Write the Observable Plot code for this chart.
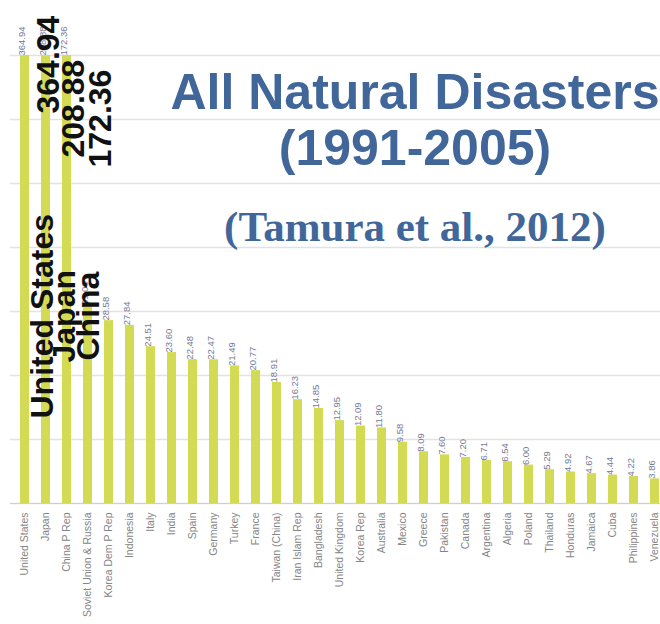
<!DOCTYPE html>
<html>
<head>
<meta charset="utf-8">
<script src="https://cdn.jsdelivr.net/npm/d3@7"></script>
<script src="https://cdn.jsdelivr.net/npm/@observablehq/plot@0.6"></script>
<style>
  html, body { margin: 0; padding: 0; background: #fff; overflow: hidden; }
  #wrap { position: relative; width: 660px; height: 624px; overflow: hidden; }
  #chart svg { overflow: hidden; }
  .ttl { position: absolute; color: #41679a; text-align: center; white-space: nowrap; }
  #t1 { left: 165px; width: 500px; top: 64px; font: bold 50px "Liberation Sans", Arial, sans-serif; line-height: 56px; }
  #t2 { left: 170px; width: 490px; top: 203px; font: bold 43px "Liberation Serif", "Times New Roman", serif; line-height: 48px; }
</style>
</head>
<body>
<div id="wrap">
  <div id="chart"></div>
  <div class="ttl" id="t1">All Natural Disasters<br>(1991-2005)</div>
  <div class="ttl" id="t2">(Tamura et al., 2012)</div>
</div>
<script>
const countries = [
  "United States", "Japan", "China P Rep", "Soviet Union & Russia", "Korea Dem P Rep",
  "Indonesia", "Italy", "India", "Spain", "Germany", "Turkey", "France",
  "Taiwan (China)", "Iran Islam Rep", "Bangladesh", "United Kingdom", "Korea Rep",
  "Australia", "Mexico", "Greece", "Pakistan", "Canada", "Argentina", "Algeria",
  "Poland", "Thailand", "Honduras", "Jamaica", "Cuba", "Philippines", "Venezuela"
];
const values = [
  364.94, 208.88, 172.36, 31.0, 28.58,
  27.84, 24.51, 23.60, 22.48, 22.47, 21.49, 20.77,
  18.91, 16.23, 14.85, 12.95, 12.09,
  11.80, 9.58, 8.09, 7.60, 7.20, 6.71, 6.54,
  6.00, 5.29, 4.92, 4.67, 4.44, 4.22, 3.86
];
const gridTicks = [0, 10, 20, 30, 40, 50, 60, 70];
const bigNames = ["United States", "Japan", "China"];

const data = countries.map((c, i) => ({country: c, value: values[i]}));
const top3 = data.slice(0, 3);

const font = '"Liberation Sans", Arial, sans-serif';
const bigStyle = {fontSize: 32, fontWeight: "bold", fill: "#111", fontFamily: font,
  rotate: -90, textAnchor: "start", lineAnchor: "middle", frameAnchor: "top"};

const chart = Plot.plot({
  width: 660,
  height: 624,
  marginTop: 55,
  marginBottom: 121,
  marginLeft: 10,
  marginRight: 0,
  style: {fontFamily: font, background: "#fff"},
  x: {domain: countries, range: [3.6, 676], padding: 0.55, label: null},
  y: {domain: [0, 70], clamp: true, axis: null},
  marks: [
    Plot.ruleY(gridTicks, {stroke: "#e2e2e2", strokeWidth: 1.5}),
    Plot.barY(data, {x: "country", y: "value", fill: "#d3db55"}),
    Plot.ruleY([0], {stroke: "#c9cfe0", strokeWidth: 1}),
    Plot.text(data, {x: "country", y: "value", text: d => d.value.toFixed(2),
      rotate: -90, textAnchor: "start", lineAnchor: "middle", dx: -3,
      fontSize: 9.5, fill: "#747a96", stroke: "#fff", strokeWidth: 0.5}),
    Plot.axisX({tickRotate: -90, tickSize: 0, tickPadding: 9, fontSize: 10.5,
      color: "#858585", label: null}),
    Plot.text([top3[0]], {...bigStyle, x: "country", text: d => d.value.toFixed(2), dx: 24, dy: 58}),
    Plot.text([top3[1]], {...bigStyle, x: "country", text: d => d.value.toFixed(2), dx: 28, dy: 102}),
    Plot.text([top3[2]], {...bigStyle, x: "country", text: d => d.value.toFixed(2), dx: 34, dy: 112}),
    Plot.text([top3[0]], {...bigStyle, x: "country", text: () => bigNames[0], dx: 18, dy: 363}),
    Plot.text([top3[1]], {...bigStyle, x: "country", text: () => bigNames[1], dx: 19, dy: 307}),
    Plot.text([top3[2]], {...bigStyle, x: "country", text: () => bigNames[2], dx: 22, dy: 305})
  ]
});
document.getElementById("chart").appendChild(chart);
</script>
</body>
</html>
